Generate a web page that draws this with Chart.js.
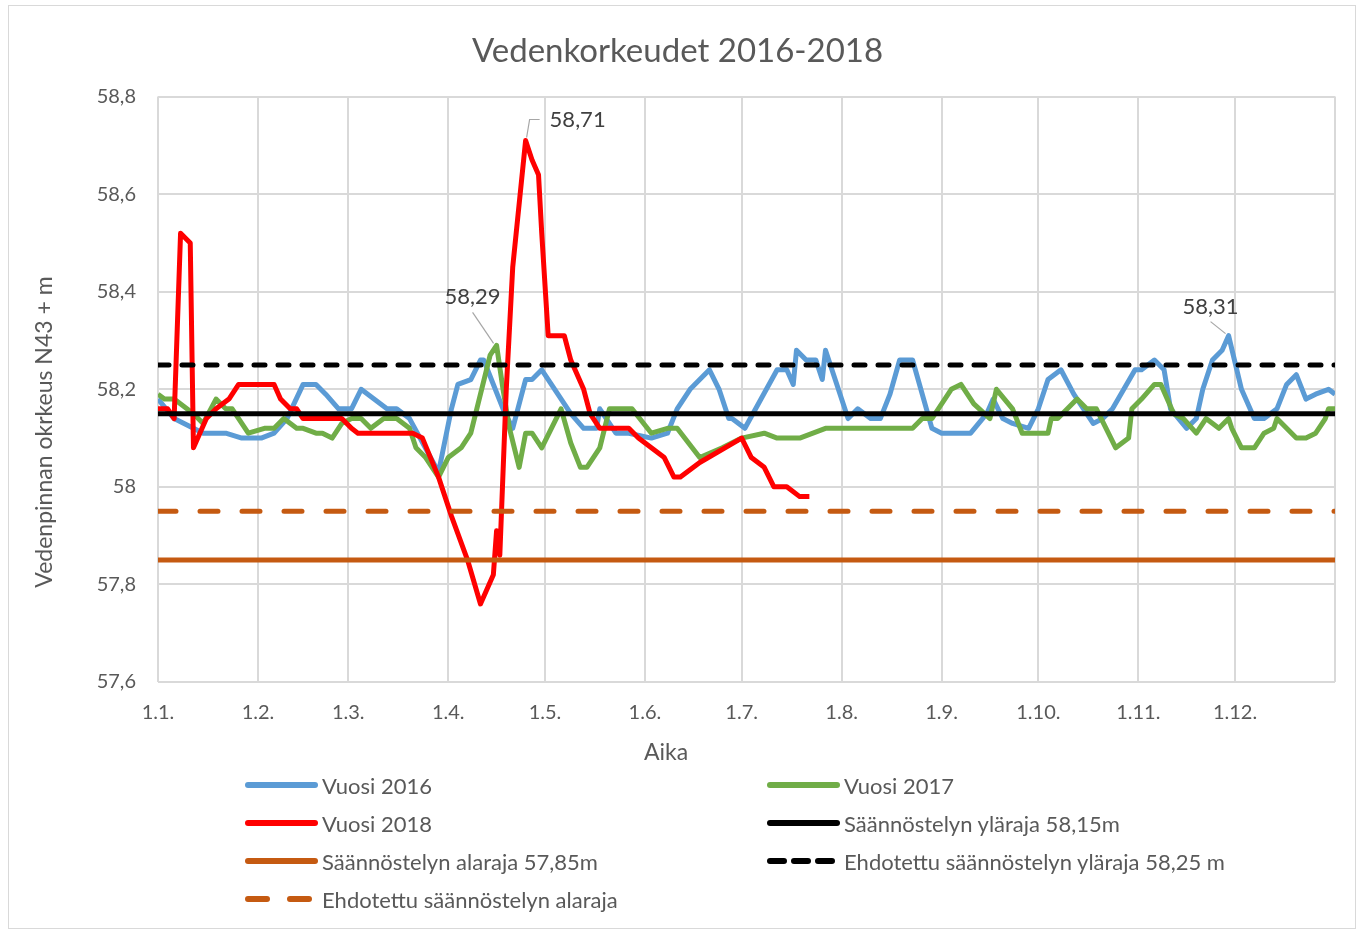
<!DOCTYPE html>
<html>
<head>
<meta charset="utf-8">
<title>Vedenkorkeudet 2016-2018</title>
<script src="https://cdn.jsdelivr.net/npm/chart.js@4.4.1/dist/chart.umd.min.js"></script>
<style>
  body { margin: 0; background: #fff; font-family: Lato, "Open Sans", sans-serif; }
  #wrap { position: relative; width: 1362px; height: 930px; }
  #frame { position: absolute; left: 8px; top: 5px; width: 1346px; height: 922px; border: 1px solid #d9d9d9; pointer-events: none; }
  .item { position: absolute; display: flex; align-items: center; height: 26px; font-size: 22px; color: #595959; white-space: nowrap; }
  .item span { margin-left: 3px; }
</style>
</head>
<body>
<div id="wrap">
  <canvas id="levelChart" width="1362" height="930"></canvas>
  <div id="frame"></div>
  <div id="legend"></div>
</div>
<script>
// päivä vuoden alusta (0 = 1.1.)
const monthStarts = [0, 31, 59, 90, 120, 151, 181, 212, 243, 273, 304, 334];
const monthLabels = ['1.1.', '1.2.', '1.3.', '1.4.', '1.5.', '1.6.', '1.7.', '1.8.', '1.9.', '1.10.', '1.11.', '1.12.'];

const days2016 = [0, 5, 11, 14, 21, 26, 32, 36, 40, 45, 49, 52, 56, 60, 63, 67, 71, 74, 78, 87, 91, 93, 97, 100, 101,
  107, 110, 114, 116, 119, 124, 128, 132, 136, 137, 142, 146, 153, 158, 161, 165, 171, 174, 177, 178, 182, 187, 192,
  195, 197, 198, 201, 204, 206, 207, 214, 217, 221, 224, 227, 230, 234, 240, 243, 252, 257, 259, 262, 265, 270, 273,
  276, 280, 284, 290, 293, 296, 303, 305, 309, 312, 314, 319, 322, 324, 327, 330, 332, 336, 340, 343, 347, 350, 353,
  356, 359, 363, 365];
const level2016 = [58.18, 58.14, 58.12, 58.11, 58.11, 58.10, 58.10, 58.11, 58.14, 58.21, 58.21, 58.19, 58.16, 58.16,
  58.20, 58.18, 58.16, 58.16, 58.14, 58.03, 58.16, 58.21, 58.22, 58.26, 58.26, 58.16, 58.12, 58.22, 58.22, 58.24,
  58.19, 58.15, 58.12, 58.12, 58.16, 58.11, 58.11, 58.10, 58.11, 58.16, 58.20, 58.24, 58.20, 58.14, 58.14, 58.12,
  58.18, 58.24, 58.24, 58.21, 58.28, 58.26, 58.26, 58.22, 58.28, 58.14, 58.16, 58.14, 58.14, 58.19, 58.26, 58.26,
  58.12, 58.11, 58.11, 58.15, 58.18, 58.14, 58.13, 58.12, 58.16, 58.22, 58.24, 58.19, 58.13, 58.14, 58.16, 58.24,
  58.24, 58.26, 58.24, 58.16, 58.12, 58.14, 58.20, 58.26, 58.28, 58.31, 58.20, 58.14, 58.14, 58.16, 58.21, 58.23,
  58.18, 58.19, 58.20, 58.19];

const days2017 = [0, 2, 5, 11, 14, 18, 21, 23, 28, 33, 36, 39, 43, 45, 49, 51, 54, 57, 60, 63, 66, 70, 74, 78, 80, 83,
  87, 90, 94, 97, 100, 103, 105, 107, 109, 112, 114, 116, 119, 122, 125, 128, 131, 133, 137, 140, 147, 153, 158, 161,
  168, 175, 181, 188, 192, 199, 207, 234, 237, 240, 246, 249, 253, 258, 260, 265, 268, 276, 277, 279, 285, 288, 291,
  297, 301, 302, 305, 309, 311, 315, 318, 322, 325, 329, 332, 333, 336, 340, 343, 346, 347, 350, 353, 356, 359, 362,
  363, 365];
const level2017 = [58.19, 58.18, 58.18, 58.15, 58.13, 58.18, 58.16, 58.16, 58.11, 58.12, 58.12, 58.14, 58.12, 58.12,
  58.11, 58.11, 58.10, 58.13, 58.14, 58.14, 58.12, 58.14, 58.14, 58.12, 58.08, 58.06, 58.02, 58.06, 58.08, 58.11,
  58.19, 58.27, 58.29, 58.20, 58.12, 58.04, 58.11, 58.11, 58.08, 58.12, 58.16, 58.09, 58.04, 58.04, 58.08, 58.16,
  58.16, 58.11, 58.12, 58.12, 58.06, 58.08, 58.10, 58.11, 58.10, 58.10, 58.12, 58.12, 58.14, 58.14, 58.20, 58.21,
  58.17, 58.14, 58.20, 58.16, 58.11, 58.11, 58.14, 58.14, 58.18, 58.16, 58.16, 58.08, 58.10, 58.16, 58.18, 58.21,
  58.21, 58.15, 58.14, 58.11, 58.14, 58.12, 58.14, 58.12, 58.08, 58.08, 58.11, 58.12, 58.14, 58.12, 58.10, 58.10,
  58.11, 58.14, 58.16, 58.16];

const days2018 = [0, 3, 5, 7, 10, 11, 15, 18, 22, 25, 36, 38, 41, 43, 45, 57, 60, 62, 79, 82, 87, 91, 96, 100, 104,
  105, 106, 108, 110, 114, 116, 118, 119, 121, 126, 128, 132, 134, 137, 146, 149, 153, 157, 160, 162, 168, 181, 184,
  188, 191, 195, 199, 202];
const level2018 = [58.16, 58.16, 58.14, 58.52, 58.50, 58.08, 58.14, 58.16, 58.18, 58.21, 58.21, 58.18, 58.16, 58.16,
  58.14, 58.14, 58.12, 58.11, 58.11, 58.10, 58.02, 57.94, 57.85, 57.76, 57.82, 57.91, 57.86, 58.20, 58.45, 58.71,
  58.67, 58.64, 58.52, 58.31, 58.31, 58.26, 58.20, 58.15, 58.12, 58.12, 58.10, 58.08, 58.06, 58.02, 58.02, 58.05,
  58.10, 58.06, 58.04, 58.00, 58.00, 57.98, 57.98];

const upperLimit = 58.15;
const lowerLimit = 57.85;
const proposedUpper = 58.25;
const proposedLower = 57.95;

function series(days, levels) {
  return days.map((d, i) => ({ x: d, y: levels[i] }));
}
function flat(v) {
  return [{ x: 0, y: v }, { x: 365, y: v }];
}

const datasets = [
  { label: 'Vuosi 2016', data: series(days2016, level2016), borderColor: '#5B9BD5', borderWidth: 5, order: 7, peak: { dx: -18, dy: -29, side: 'up' } },
  { label: 'Vuosi 2017', data: series(days2017, level2017), borderColor: '#70AD47', borderWidth: 5, order: 6, peak: { dx: -24, dy: -48, side: 'up' } },
  { label: 'Vuosi 2018', data: series(days2018, level2018), borderColor: '#FF0000', borderWidth: 5, order: 5, peak: { dx: 24, dy: -21, side: 'right' } },
  { label: 'Säännöstelyn yläraja 58,15m', data: flat(upperLimit), borderColor: '#000000', borderWidth: 5, order: 4 },
  { label: 'Säännöstelyn alaraja 57,85m', data: flat(lowerLimit), borderColor: '#C55A11', borderWidth: 5, order: 3 },
  { label: 'Ehdotettu säännöstelyn yläraja 58,25 m', data: flat(proposedUpper), borderColor: '#000000', borderWidth: 5, borderDash: [11, 13], borderCapStyle: 'round', order: 2 },
  { label: 'Ehdotettu säännöstelyn alaraja', data: flat(proposedLower), borderColor: '#C55A11', borderWidth: 5, borderDash: [18, 24], borderCapStyle: 'round', order: 1 }
];

const FONT = 'Lato, "Open Sans", sans-serif';

// huippuarvojen tekstit ja viivat
const peakLabels = {
  id: 'peakLabels',
  afterDatasetsDraw(chart) {
    const ctx = chart.ctx;
    chart.data.datasets.forEach((ds, i) => {
      if (!ds.peak) return;
      let best = 0;
      ds.data.forEach((p, j) => { if (p.y > ds.data[best].y) best = j; });
      const pt = chart.getDatasetMeta(i).data[best];
      const text = ds.data[best].y.toFixed(2).replace('.', ',');
      ctx.save();
      ctx.strokeStyle = '#a6a6a6';
      ctx.lineWidth = 1.2;
      ctx.fillStyle = '#404040';
      ctx.font = '22px ' + FONT;
      ctx.textBaseline = 'middle';
      ctx.beginPath();
      if (ds.peak.side === 'right') {
        ctx.moveTo(pt.x + 1, pt.y - 3);
        ctx.lineTo(pt.x + 4, pt.y + ds.peak.dy);
        ctx.lineTo(pt.x + 14, pt.y + ds.peak.dy);
        ctx.stroke();
        ctx.textAlign = 'left';
        ctx.fillText(text, pt.x + ds.peak.dx, pt.y + ds.peak.dy);
      } else {
        ctx.moveTo(pt.x - 3, pt.y - 2);
        ctx.lineTo(pt.x + ds.peak.dx, pt.y + ds.peak.dy + 15);
        ctx.stroke();
        ctx.textAlign = 'center';
        ctx.fillText(text, pt.x + ds.peak.dx, pt.y + ds.peak.dy);
      }
      ctx.restore();
    });
  }
};

// akselien otsikot (Excel keskittää ne eri kohtaan kuin Chart.js)
const axisTitles = {
  id: 'axisTitles',
  afterDraw(chart) {
    const ctx = chart.ctx;
    ctx.save();
    ctx.fillStyle = '#595959';
    ctx.font = '23px ' + FONT;
    ctx.textAlign = 'center';
    ctx.textBaseline = 'middle';
    ctx.fillText('Aika', 666, 753);
    ctx.translate(45, 432);
    ctx.rotate(-Math.PI / 2);
    ctx.fillText('Vedenpinnan okrkeus N43 + m', 0, 0);
    ctx.restore();
  }
};

Chart.defaults.font.family = FONT;
Chart.defaults.color = '#595959';

const ctx = document.getElementById('levelChart').getContext('2d');
const chart = new Chart(ctx, {
  type: 'line',
  data: { datasets: datasets },
  options: {
    responsive: false,
    animation: false,
    elements: { point: { radius: 0, hoverRadius: 0 }, line: { tension: 0, borderJoinStyle: 'round' } },
    layout: { padding: { left: 20, right: 27, top: 0, bottom: 158 } },
    plugins: {
      legend: { display: false },
      tooltip: { enabled: false },
      title: {
        display: true,
        text: 'Vedenkorkeudet 2016-2018',
        color: '#595959',
        font: { size: 33, weight: 'normal' },
        padding: { top: 32, bottom: 25 }
      }
    },
    scales: {
      x: {
        type: 'linear',
        min: 0,
        max: 365,
        afterBuildTicks(scale) {
          scale.ticks = monthStarts.concat([365]).map(v => ({ value: v }));
        },
        afterFit(scale) { scale.height = 90; },
        ticks: {
          autoSkip: false,
          maxRotation: 0,
          padding: 19,
          font: { size: 20 },
          callback(value) {
            const i = monthStarts.indexOf(value);
            return i >= 0 ? monthLabels[i] : '';
          }
        },
        grid: { color: '#d9d9d9', lineWidth: 2, drawTicks: false },
        border: { display: false }
      },
      y: {
        min: 57.6,
        max: 58.8,
        afterFit(scale) { scale.width = 138; },
        ticks: {
          stepSize: 0.2,
          padding: 22,
          font: { size: 20 },
          callback(value) { return String(Number(value.toFixed(1))).replace('.', ','); }
        },
        grid: { color: '#d9d9d9', lineWidth: 2, drawTicks: false },
        border: { display: false }
      }
    }
  },
  plugins: [peakLabels, axisTitles]
});

// selite kahteen sarakkeeseen
const legendCols = [245, 767];
const legendRows = [785, 823, 861, 899];
const legend = document.getElementById('legend');
chart.data.datasets.forEach((ds, i) => {
  const item = document.createElement('div');
  item.className = 'item';
  item.style.left = legendCols[i % 2] + 'px';
  item.style.top = (legendRows[Math.floor(i / 2)] - 13) + 'px';
  let dash = '';
  if (ds.borderDash) dash = ds.borderDash[0] === 11 ? 'stroke-dasharray="14 10"' : 'stroke-dasharray="19 23"';
  item.innerHTML = '<svg width="74" height="10"><line x1="3" y1="5" x2="70" y2="5" stroke="' + ds.borderColor +
    '" stroke-width="6" stroke-linecap="round" ' + dash + '/></svg><span>' + ds.label + '</span>';
  legend.appendChild(item);
});
</script>
</body>
</html>
